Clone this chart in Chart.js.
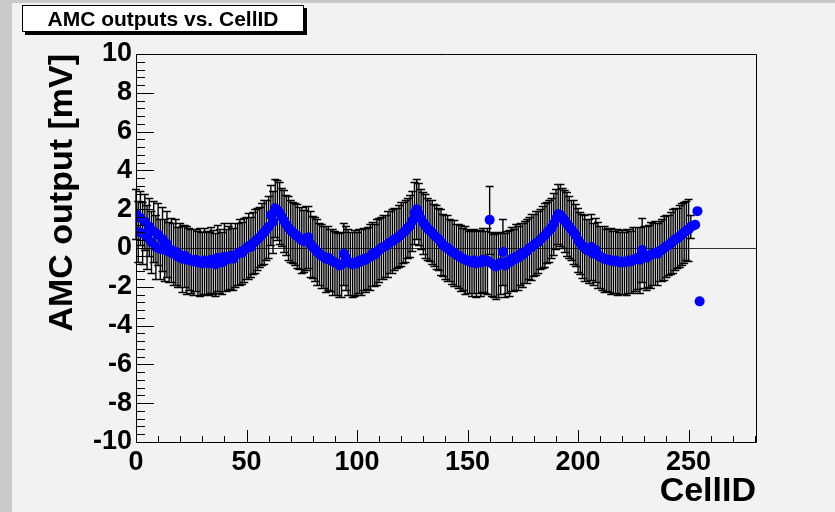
<!DOCTYPE html>
<html>
<head>
<meta charset="utf-8">
<script src="https://cdn.jsdelivr.net/npm/chart.js@4/dist/chart.umd.min.js"></script>
<style>
    body { margin: 0; background: #f2f2f2; }
    #stage { position: relative; width: 835px; height: 512px; overflow: hidden; }
    .strip { position: absolute; background: #c9c9c9; }
    #chart { position: absolute; left: 0; top: 0; }
    #title-box {
        position: absolute; left: 22px; top: 5px; width: 282px; height: 27px;
        box-sizing: border-box; background: #fff; border: 1px solid #000;
        box-shadow: 3px 3px 0 #000;
        font: bold 21px "Liberation Sans", Arial, sans-serif; color: #000;
        text-align: center; line-height: 25px;
    }
</style>
</head>
<body>
<div id="stage">
    <div class="strip" style="left:0;top:0;width:835px;height:3px"></div>
    <div class="strip" style="left:0;top:0;width:12px;height:512px"></div>
    <canvas id="chart" width="835" height="512"></canvas>
    <div id="title-box">AMC outputs vs. CellID</div>
</div>
<script>
// AMC output [mV] for CellID 0..255
const amcOutput = [
    1.75, 0.85, 1.55, 0.75, 1.35, 0.55, 1.1, 0.3, 0.85, 0.05, 0.7, -0.05, 0.45, -0.1, 0.2, -0.2,
    -0.1, -0.3, -0.2, -0.45, -0.35, -0.55, -0.4, -0.6, -0.55, -0.65, -0.7, -0.6, -0.75, -0.7, -0.8, -0.65,
    -0.75, -0.8, -0.6, -0.7, -0.85, -0.5, -0.65, -0.75, -0.45, -0.6, -0.5, -0.4, -0.55, -0.35, -0.3, -0.2,
    -0.25, -0.1, 0.0, 0.1, 0.05, 0.25, 0.35, 0.45, 0.55, 0.7, 0.8, 0.95, 1.1, 1.7, 1.35, 2.05,
    1.95, 1.8, 1.6, 1.4, 1.2, 1.05, 0.9, 0.8, 0.7, 0.6, 0.5, 0.4, 0.35, 0.5, 0.55, 0.2,
    0.05, -0.05, -0.2, -0.3, -0.4, -0.45, -0.55, -0.5, -0.6, -0.7, -0.75, -0.8, -0.9, -0.85, -0.3, -0.5,
    -0.7, -0.8, -0.85, -0.75, -0.8, -0.65, -0.7, -0.55, -0.6, -0.5, -0.45, -0.3, -0.35, -0.2, -0.1, 0.0,
    0.05, 0.1, 0.2, 0.3, 0.35, 0.45, 0.5, 0.6, 0.7, 0.8, 0.9, 1.05, 1.15, 1.4, 1.8, 2.0,
    1.75, 1.5, 1.3, 1.15, 1.0, 0.9, 0.8, 0.65, 0.55, 0.45, 0.3, 0.15, 0.05, 0.0, -0.1, -0.2,
    -0.25, -0.35, -0.4, -0.5, -0.55, -0.6, -0.65, -0.7, -0.75, -0.65, -0.8, -0.7, -0.75, -0.6, -0.7, -0.65,
    1.45, -0.8, -0.9, -0.95, -0.85, -0.75, -0.2, -0.9, -0.7, -0.75, -0.55, -0.6, -0.45, -0.5, -0.3, -0.35,
    -0.2, -0.15, 0.0, 0.05, 0.15, 0.25, 0.3, 0.45, 0.55, 0.65, 0.8, 0.9, 1.05, 1.25, 1.5, 1.75,
    1.7, 1.55, 1.4, 1.25, 1.1, 0.95, 0.8, 0.65, 0.4, 0.25, 0.1, 0.0, -0.1, -0.15, 0.05, -0.3,
    -0.1, -0.35, -0.45, -0.5, -0.55, -0.6, -0.6, -0.65, -0.7, -0.65, -0.7, -0.75, -0.7, -0.75, -0.7, -0.65,
    -0.7, -0.6, -0.55, -0.5, -0.6, -0.1, -0.45, -0.5, -0.4, -0.35, -0.3, -0.25, -0.3, -0.15, -0.1, 0.0,
    0.1, 0.15, 0.25, 0.35, 0.45, 0.5, 0.6, 0.7, 0.8, 0.9, 0.95, 1.1, 1.15, 1.2, 1.9, -2.75
];

// symmetric error of each point [mV]
const amcError = [
    1.3, 1.55, 1.4, 1.6, 1.45, 1.65, 1.5, 1.6, 1.55, 1.65, 1.6, 1.55, 1.65, 1.6, 1.7, 1.55,
    1.65, 1.6, 1.7, 1.55, 1.65, 1.7, 1.6, 1.75, 1.6, 1.65, 1.7, 1.6, 1.65, 1.75, 1.6, 1.7,
    1.65, 1.6, 1.7, 1.65, 1.6, 1.7, 1.65, 1.6, 1.75, 1.6, 1.65, 1.7, 1.6, 1.65, 1.6, 1.7,
    1.6, 1.65, 1.6, 1.7, 1.55, 1.6, 1.65, 1.6, 1.55, 1.6, 1.65, 1.55, 1.6, 1.55, 1.6, 1.5,
    1.55, 1.6, 1.5, 1.6, 1.55, 1.65, 1.6, 1.55, 1.6, 1.65, 1.6, 1.7, 1.6, 1.65, 1.6, 1.7,
    1.6, 1.65, 1.7, 1.6, 1.65, 1.6, 1.7, 1.65, 1.6, 1.7, 1.65, 1.6, 1.65, 1.7, 1.6, 1.65,
    1.7, 1.6, 1.65, 1.7, 1.6, 1.65, 1.7, 1.6, 1.65, 1.6, 1.7, 1.65, 1.6, 1.7, 1.65, 1.6,
    1.65, 1.6, 1.7, 1.6, 1.65, 1.6, 1.55, 1.6, 1.65, 1.55, 1.6, 1.55, 1.6, 1.55, 1.6, 1.55,
    1.6, 1.55, 1.6, 1.65, 1.6, 1.55, 1.65, 1.6, 1.65, 1.6, 1.7, 1.6, 1.65, 1.7, 1.6, 1.65,
    1.7, 1.6, 1.65, 1.7, 1.6, 1.75, 1.65, 1.6, 1.7, 1.65, 1.75, 1.6, 1.7, 1.65, 1.6, 1.7,
    1.75, 1.65, 1.6, 1.7, 1.65, 1.6, 1.7, 1.65, 1.6, 1.7, 1.65, 1.6, 1.7, 1.65, 1.6, 1.65,
    1.6, 1.65, 1.6, 1.7, 1.6, 1.65, 1.6, 1.55, 1.6, 1.65, 1.55, 1.6, 1.55, 1.6, 1.55, 1.55,
    1.6, 1.55, 1.6, 1.65, 1.6, 1.55, 1.65, 1.6, 1.65, 1.6, 1.65, 1.7, 1.6, 1.65, 1.7, 1.6,
    1.65, 1.7, 1.6, 1.65, 1.7, 1.6, 1.65, 1.7, 1.6, 1.65, 1.7, 1.6, 1.65, 1.6, 1.7, 1.65,
    1.6, 1.7, 1.65, 1.6, 1.7, 1.65, 1.6, 1.65, 1.6, 1.7, 1.6, 1.65, 1.6, 1.55, 1.6, 1.65,
    1.6, 1.55, 1.6, 1.65, 1.6, 1.55, 1.6, 1.6, 1.55, 1.5, 1.6, 0.6
];

const xMax = 280.5;
const xMajor = [0, 50, 100, 150, 200, 250];
const yTicks = [-10, -8, -6, -4, -2, 0, 2, 4, 6, 8, 10];

const fontFamily = '"Liberation Sans", Arial, sans-serif';

// ROOT-like frame: box, zero line, ticks pointing inwards
const framePlugin = {
    id: 'frame',
    beforeDatasetsDraw(chart) {
        const {ctx, chartArea: a, scales: {y}} = chart;
        ctx.save();
        ctx.strokeStyle = '#333';
        ctx.lineWidth = 1;
        const y0 = Math.round(y.getPixelForValue(0)) + 0.5;
        ctx.beginPath();
        ctx.moveTo(a.left, y0);
        ctx.lineTo(a.right, y0);
        ctx.stroke();
        ctx.restore();
    },
    afterDraw(chart) {
        const {ctx, chartArea: a, scales: {x, y}} = chart;
        ctx.save();
        ctx.strokeStyle = '#000';
        ctx.lineWidth = 1;
        ctx.beginPath();
        ctx.rect(Math.round(a.left) + 0.5, Math.round(a.top) + 0.5,
            Math.round(a.right - a.left), Math.round(a.bottom - a.top));
        ctx.stroke();

        ctx.beginPath();
        // x ticks every 10, major every 50
        for (let v = 0; v <= 280; v += 10) {
            const px = Math.round(x.getPixelForValue(v)) + 0.5;
            const len = v % 50 === 0 ? 12 : 6;
            ctx.moveTo(px, a.bottom);
            ctx.lineTo(px, a.bottom - len);
        }
        // y ticks every 0.4, major every 2
        for (let k = 0; k <= 50; k++) {
            const v = -10 + k * 0.4;
            const py = Math.round(y.getPixelForValue(v)) + 0.5;
            const len = k % 5 === 0 ? 18 : 9;
            ctx.moveTo(a.left, py);
            ctx.lineTo(a.left + len, py);
        }
        ctx.stroke();
        ctx.restore();
    }
};

// vertical error bars with end caps
const errorBarPlugin = {
    id: 'errorBars',
    beforeDatasetsDraw(chart) {
        const {ctx, scales: {x, y}} = chart;
        ctx.save();
        ctx.strokeStyle = '#000';
        ctx.lineWidth = 1.4;
        ctx.beginPath();
        amcOutput.forEach((v, i) => {
            const px = x.getPixelForValue(i);
            const top = Math.round(y.getPixelForValue(v + amcError[i])) + 0.5;
            const bot = Math.round(y.getPixelForValue(v - amcError[i])) + 0.5;
            ctx.moveTo(px, top);
            ctx.lineTo(px, bot);
            ctx.moveTo(px - 4, top);
            ctx.lineTo(px + 4, top);
            ctx.moveTo(px - 4, bot);
            ctx.lineTo(px + 4, bot);
        });
        ctx.stroke();
        ctx.restore();
    }
};

new Chart(document.getElementById('chart'), {
    type: 'scatter',
    data: {
        datasets: [{
            data: amcOutput.map((v, i) => ({x: i, y: v})),
            pointRadius: 5,
            pointBackgroundColor: '#0000ff',
            pointBorderWidth: 0,
            showLine: false
        }]
    },
    options: {
        responsive: false,
        animation: false,
        layout: {padding: {left: 0, right: 79, top: 54, bottom: 0}},
        plugins: {legend: {display: false}, tooltip: {enabled: false}, title: {display: false}},
        scales: {
            x: {
                type: 'linear',
                min: 0,
                max: xMax,
                afterBuildTicks: s => { s.ticks = xMajor.map(v => ({value: v})); },
                afterFit: s => { s.height = 70; },
                grid: {display: false, drawTicks: false},
                border: {display: false},
                ticks: {color: '#000', padding: 4, font: {family: fontFamily, size: 27, weight: 'bold'}},
                title: {
                    display: true, text: 'CellID', align: 'end', color: '#000',
                    padding: {top: 0, bottom: 0},
                    font: {family: fontFamily, size: 34, weight: 'bold'}
                }
            },
            y: {
                min: -10,
                max: 10,
                afterBuildTicks: s => { s.ticks = yTicks.map(v => ({value: v})); },
                afterFit: s => { s.width = 136; },
                grid: {display: false, drawTicks: false},
                border: {display: false},
                ticks: {color: '#000', padding: 4, font: {family: fontFamily, size: 27, weight: 'bold'}},
                title: {
                    display: true, text: 'AMC output [mV]', align: 'end', color: '#000',
                    padding: {top: 42, bottom: 0},
                    font: {family: fontFamily, size: 34, weight: 'bold'}
                }
            }
        }
    },
    plugins: [framePlugin, errorBarPlugin]
});
</script>
</body>
</html>
